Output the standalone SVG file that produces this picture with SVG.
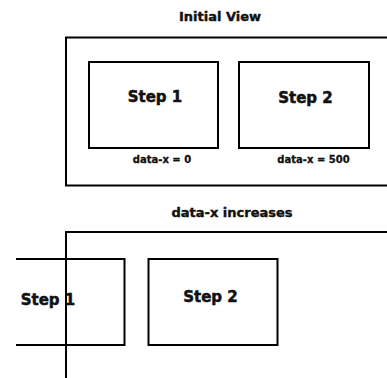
<svg xmlns="http://www.w3.org/2000/svg" width="387" height="378" viewBox="0 0 387 378">
  <style>
    .bg { fill: #ffffff; }
    .frame { fill: none; stroke: #000000; stroke-width: 2; }
    .box { fill: none; stroke: #000000; stroke-width: 2; }
    .t { font-family: "DejaVu Sans", "Liberation Sans", sans-serif; font-weight: bold; fill: #111111; stroke: #111111; text-anchor: middle; }
    .title { font-size: 13px; stroke-width: 0.4; }
    .step { font-size: 15px; stroke-width: 0.5; }
    .note { font-size: 10px; stroke-width: 0.3; }
  </style>
  <rect class="bg" x="0" y="0" width="387" height="378"/>

  <!-- Top panel: the initial viewport -->
  <g id="initial-view">
    <text class="t title" x="220" y="21">Initial View</text>
    <path class="frame" d="M390,37.5 H66 V185.5 H390"/>
  </g>
  <g id="step1-initial">
    <rect class="box" x="89" y="62" width="129" height="86"/>
    <text class="t step" x="155" y="102">Step 1</text>
    <text class="t note" x="162" y="162.5">data-x = 0</text>
  </g>
  <g id="step2-initial">
    <rect class="box" x="239" y="62" width="130" height="86"/>
    <text class="t step" x="305.5" y="102.5">Step 2</text>
    <text class="t note" x="313.5" y="162.5">data-x = 500</text>
  </g>

  <!-- Bottom panel: viewport after data-x grows -->
  <g id="shifted-view">
    <text class="t title" x="232" y="217">data-x increases</text>
    <path class="frame" d="M390,232 H66 V380"/>
  </g>
  <g id="step1-shifted">
    <path class="box" d="M16,259 H124.5 V345 H16"/>
    <text class="t step" x="48" y="304.5">Step 1</text>
  </g>
  <g id="step2-shifted">
    <rect class="box" x="148.5" y="259" width="129" height="86"/>
    <text class="t step" x="210.5" y="301.5">Step 2</text>
  </g>
</svg>
